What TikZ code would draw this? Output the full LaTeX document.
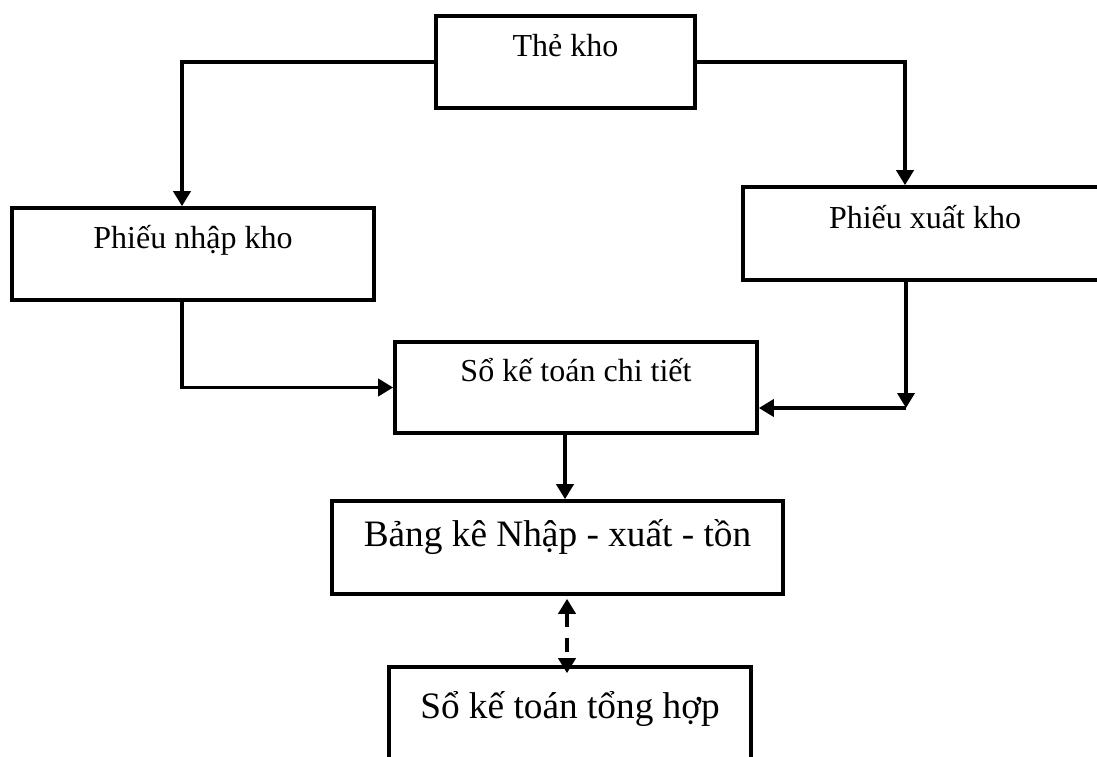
\documentclass[tikz,border=0pt]{standalone}
\usepackage{fontspec}
\setmainfont{Liberation Serif}
\usetikzlibrary{arrows.meta}

\tikzset{
  box/.style={draw, line width=3.6pt, rectangle, inner sep=0pt},
  small/.style={font=\fontsize{32pt}{36pt}\selectfont, anchor=base, inner sep=0pt},
  big/.style={font=\fontsize{37.3pt}{42pt}\selectfont, anchor=base, inner sep=0pt},
  arr/.style={line width=3.6pt, -{Triangle[length=15pt,width=17pt]}},
  dasharr/.style={line width=4pt, dash pattern=on 14pt off 11pt,
    {Triangle[length=15pt,width=17pt]}-{Triangle[length=15pt,width=17pt]}},
}

\begin{document}
\begin{tikzpicture}[x=1pt,y=-1pt]
\useasboundingbox (0,0) rectangle (1097,756);
\clip (0,0) rectangle (1097,756);
\fill[white] (0,0) rectangle (1097,756);

% boxes
\node[box, minimum width=259pt, minimum height=92pt] (the)  at (565.5,62)  {};
\node[box, minimum width=362pt, minimum height=92pt] (nhap) at (193,254)   {};
\node[box, minimum width=364pt, minimum height=93pt] (xuat) at (925,233.5) {};
\node[box, minimum width=362pt, minimum height=91pt] (ct)   at (576,387.5) {};
\node[box, minimum width=451pt, minimum height=93pt] (bang) at (557.5,547.5) {};
\node[box, minimum width=362pt, minimum height=93pt] (tong) at (570,713.5) {};

% labels, set in the upper part of each box
\node[small] (the-t)  at ([yshift=-42pt]the.north)  {Thẻ kho};
\node[small] (nhap-t) at ([yshift=-42pt]nhap.north) {Phiếu nhập kho};
\node[small] (xuat-t) at ([yshift=-43pt]xuat.north) {Phiếu xuất kho};
\node[small] (ct-t)   at ([yshift=-41pt]ct.north)   {Sổ kế toán chi tiết};
\node[big]   (bang-t) at ([yshift=-47pt]bang.north) {Bảng kê Nhập - xuất - tồn};
\node[big]   (tong-t) at ([yshift=-53pt]tong.north) {Sổ kế toán tổng hợp};

% connectors
\draw[arr] (the.west) -| ([xshift=-11pt]nhap.north);
\draw[arr] (the.east) -| ([xshift=-20pt]xuat.north);
\draw[arr] ([xshift=-11pt]nhap.south) |- (ct.west);

\coordinate (turn) at ([xshift=-19pt]xuat.south |- 0,408);
\draw[arr] ([xshift=-19pt]xuat.south) -- (turn);
\draw[arr] (turn) -- (turn -| ct.east);

\draw[arr] ([xshift=-11pt]ct.south) -- ([xshift=-11pt]ct.south |- bang.north);

\coordinate (dx) at ([xshift=-3pt]tong.north);
\draw[dasharr, shorten <=3pt, shorten >=-8pt] (bang.south -| dx) -- (dx);
\end{tikzpicture}
\end{document}
